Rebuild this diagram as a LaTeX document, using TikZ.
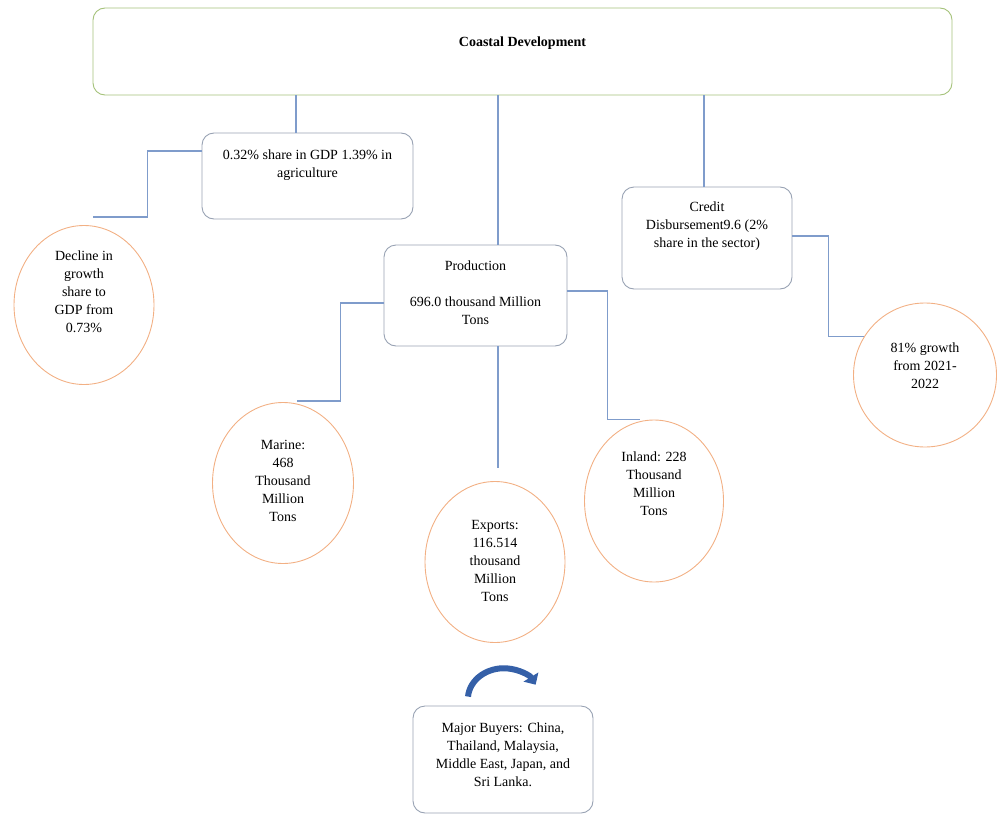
\documentclass[tikz,border=0pt]{standalone}
\usepackage{fontspec}
\setmainfont{Liberation Serif}
\usetikzlibrary{arrows.meta, positioning, shapes.geometric, calc}
\definecolor{cgreen}{HTML}{A5C27A}
\definecolor{cslate}{HTML}{98A2B3}
\definecolor{corange}{HTML}{F2B084}
\definecolor{cblue}{HTML}{7F9CCB}
\definecolor{cnavy}{HTML}{3560A8}
\tikzset{
  every picture/.style={font=\fontsize{14}{18}\selectfont},
  box/.style={draw=#1, rounded corners=12pt, line width=0.9pt, inner sep=0pt},
  box/.default=cslate,
  oval/.style={ellipse, draw=corange, line width=0.9pt, inner sep=0pt},
  txt/.style={align=center, inner sep=0pt},
  link/.style={draw=cblue, line width=1.3pt},
  curl/.style={draw=cnavy, line width=6pt, -{Triangle[width=17pt,length=9pt]}},
}

\begin{document}
\begin{tikzpicture}[x=1pt, y=-1pt]
  \useasboundingbox (0,0) rectangle (998,816);
  % boxes
  \node[box=cgreen, minimum width=859, minimum height=87,
    label={[txt,yshift=8]center:\textbf{Coastal Development}}] (top) at (522.5,51.5) {};
  \node[box, minimum width=211, minimum height=86,
    label={[txt,yshift=11]center:0.32\% share in GDP 1.39\% in\\agriculture}] (gdp) at (307.5,176) {};
  \node[box, minimum width=170, minimum height=102,
    label={[txt,yshift=12]center:Credit\\Disbursement9.6 (2\%\\share in the sector)}] (credit) at (707,238) {};
  \node[box, minimum width=183, minimum height=101,
    label={[txt,yshift=3]center:Production\\[18pt]696.0 thousand Million\\Tons}] (prod) at (475.5,295.5) {};
  \node[box, minimum width=180, minimum height=107,
    label={[txt,yshift=5]center:Major Buyers: China,\\Thailand, Malaysia,\\Middle East, Japan, and\\Sri Lanka.}] (buyers) at (503,759.5) {};
  % ovals
  \node[oval, minimum width=140, minimum height=159,
    label={[txt,yshift=13]center:Decline in\\growth\\share to\\GDP from\\0.73\%}] (decl) at (84,305) {};
  \node[oval, minimum width=141, minimum height=161,
    label={[txt,yshift=2]center:Marine:\\468\\Thousand\\Million\\Tons}] (marine) at (283,483) {};
  \node[oval, minimum width=140, minimum height=161,
    label={[txt,yshift=1]center:Exports:\\116.514\\thousand\\Million\\Tons}] (exports) at (495,562) {};
  \node[oval, minimum width=139, minimum height=162,
    label={[txt,yshift=17]center:Inland: 228\\Thousand\\Million\\Tons}] (inland) at (654,501) {};
  \node[oval, minimum width=143, minimum height=144,
    label={[txt,yshift=9]center:81\% growth\\from 2021-\\2022}] (growth) at (925,375) {};
  % connectors
  \draw[link] ([xshift=-11.5]gdp.north |- top.south) -- ([xshift=-11.5]gdp.north);
  \draw[link] ([xshift=22.5]prod.north |- top.south) -- ([xshift=22.5]prod.north);
  \draw[link] ([xshift=-3]credit.north |- top.south) -- ([xshift=-3]credit.north);
  \draw[link] ([yshift=25]gdp.west) -- ++(-54,0) |- ([xshift=9,yshift=8]decl.north);
  \draw[link] ([yshift=-7.5]prod.west) -- ++(-43,0) |- ([xshift=14,yshift=1]marine.north);
  \draw[link] ([yshift=4.5]prod.east) -- ++(40,0) |- ([xshift=-14]inland.north);
  \draw[link] ([xshift=22.5]prod.south) -- ++(0,122);
  \draw[link] ([yshift=2]credit.east) -- ++(36,0) |- (growth.148);
  % arrow over buyers
  \draw[curl] ([shift={(-35,-9)}]buyers.north) arc[start angle=-175, end angle=-28, x radius=36, y radius=31];
\end{tikzpicture}
\end{document}
